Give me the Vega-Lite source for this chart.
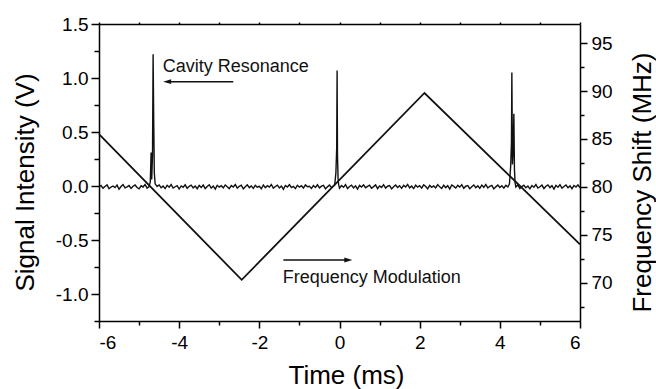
{
  "$schema": "https://vega.github.io/schema/vega-lite/v6.json",
  "width": 481,
  "height": 297,
  "autosize": "none",
  "padding": {"left": 99, "top": 24, "right": 76, "bottom": 68},
  "background": "white",
  "config": {
    "view": {"stroke": null},
    "axis": {
      "grid": false,
      "domainColor": "black",
      "domainWidth": 1.5,
      "tickColor": "black",
      "tickWidth": 1.5,
      "labelColor": "black",
      "labelFont": "Liberation Sans",
      "labelFontSize": 19,
      "titleFont": "Liberation Sans",
      "titleFontSize": 26,
      "titleFontWeight": "normal",
      "titleColor": "black"
    },
    "text": {"font": "Liberation Sans"}
  },
  "datasets": {
    "signal": [
      {"t": -6.00, "v": -0.01}, {"t": -5.95, "v": 0.005}, {"t": -5.90, "v": -0.02}, {"t": -5.85, "v": -0.005}, {"t": -5.80, "v": 0.01},
      {"t": -5.75, "v": -0.025}, {"t": -5.70, "v": -0.01}, {"t": -5.65, "v": 0.0}, {"t": -5.60, "v": -0.015}, {"t": -5.55, "v": 0.008},
      {"t": -5.50, "v": -0.03}, {"t": -5.45, "v": -0.005}, {"t": -5.40, "v": 0.012}, {"t": -5.35, "v": -0.018}, {"t": -5.30, "v": -0.008},
      {"t": -5.25, "v": 0.004}, {"t": -5.20, "v": -0.022}, {"t": -5.15, "v": -0.002}, {"t": -5.10, "v": 0.009}, {"t": -5.05, "v": -0.014},
      {"t": -5.00, "v": -0.026}, {"t": -4.95, "v": 0.002}, {"t": -4.90, "v": -0.009}, {"t": -4.85, "v": 0.014}, {"t": -4.80, "v": -0.02},
      {"t": -4.75, "v": -0.006}, {"t": -4.72, "v": 0.04}, {"t": -4.70, "v": 0.31}, {"t": -4.685, "v": 0.06}, {"t": -4.665, "v": 0.28},
      {"t": -4.65, "v": 1.22}, {"t": -4.635, "v": 0.61}, {"t": -4.62, "v": 0.12}, {"t": -4.60, "v": 0.02},
      {"t": -4.55, "v": -0.004}, {"t": -4.50, "v": 0.01}, {"t": -4.45, "v": -0.016}, {"t": -4.40, "v": -0.001}, {"t": -4.35, "v": -0.024},
      {"t": -4.30, "v": 0.007}, {"t": -4.25, "v": -0.011}, {"t": -4.20, "v": 0.013}, {"t": -4.15, "v": -0.019}, {"t": -4.10, "v": -0.007},
      {"t": -4.05, "v": 0.003}, {"t": -4.00, "v": -0.028}, {"t": -3.95, "v": 0.001}, {"t": -3.90, "v": -0.012}, {"t": -3.85, "v": 0.011},
      {"t": -3.80, "v": -0.021}, {"t": -3.75, "v": -0.003}, {"t": -3.70, "v": 0.008}, {"t": -3.65, "v": -0.017}, {"t": -3.60, "v": 0.0},
      {"t": -3.55, "v": -0.025}, {"t": -3.50, "v": 0.005}, {"t": -3.45, "v": -0.013}, {"t": -3.40, "v": 0.009}, {"t": -3.35, "v": -0.023},
      {"t": -3.30, "v": -0.004}, {"t": -3.25, "v": 0.012}, {"t": -3.20, "v": -0.019}, {"t": -3.15, "v": -0.001}, {"t": -3.10, "v": -0.029},
      {"t": -3.05, "v": 0.006}, {"t": -3.00, "v": -0.011}, {"t": -2.95, "v": 0.002}, {"t": -2.90, "v": -0.017}, {"t": -2.85, "v": 0.01},
      {"t": -2.80, "v": -0.006}, {"t": -2.75, "v": -0.024}, {"t": -2.70, "v": 0.004}, {"t": -2.65, "v": -0.009}, {"t": -2.60, "v": 0.013},
      {"t": -2.55, "v": -0.02}, {"t": -2.50, "v": -0.003}, {"t": -2.45, "v": 0.007}, {"t": -2.40, "v": -0.027}, {"t": -2.35, "v": -0.008},
      {"t": -2.30, "v": 0.011}, {"t": -2.25, "v": -0.015}, {"t": -2.20, "v": 0.001}, {"t": -2.15, "v": -0.022}, {"t": -2.10, "v": 0.006},
      {"t": -2.05, "v": -0.012}, {"t": -2.00, "v": -0.002}, {"t": -1.95, "v": -0.026}, {"t": -1.90, "v": 0.009}, {"t": -1.85, "v": -0.016},
      {"t": -1.80, "v": 0.003}, {"t": -1.75, "v": -0.01}, {"t": -1.70, "v": 0.014}, {"t": -1.65, "v": -0.021}, {"t": -1.60, "v": -0.005},
      {"t": -1.55, "v": 0.008}, {"t": -1.50, "v": -0.018}, {"t": -1.45, "v": 0.0}, {"t": -1.40, "v": -0.03}, {"t": -1.35, "v": 0.005},
      {"t": -1.30, "v": -0.009}, {"t": -1.25, "v": 0.012}, {"t": -1.20, "v": -0.014}, {"t": -1.15, "v": -0.003}, {"t": -1.10, "v": -0.024},
      {"t": -1.05, "v": 0.007}, {"t": -1.00, "v": -0.011}, {"t": -0.95, "v": 0.002}, {"t": -0.90, "v": -0.019}, {"t": -0.85, "v": 0.01},
      {"t": -0.80, "v": -0.007}, {"t": -0.75, "v": -0.002}, {"t": -0.70, "v": -0.022}, {"t": -0.65, "v": 0.004}, {"t": -0.60, "v": -0.013},
      {"t": -0.55, "v": 0.011}, {"t": -0.50, "v": -0.017}, {"t": -0.45, "v": -0.001}, {"t": -0.40, "v": 0.006}, {"t": -0.35, "v": -0.026},
      {"t": -0.30, "v": -0.008}, {"t": -0.25, "v": 0.009}, {"t": -0.20, "v": -0.015}, {"t": -0.15, "v": 0.0},
      {"t": -0.12, "v": 0.01}, {"t": -0.09, "v": 0.12}, {"t": -0.07, "v": 0.35}, {"t": -0.06, "v": 1.07}, {"t": -0.05, "v": 0.28},
      {"t": -0.035, "v": 0.06}, {"t": -0.02, "v": 0.01},
      {"t": 0.00, "v": -0.02}, {"t": 0.05, "v": 0.005}, {"t": 0.10, "v": -0.012}, {"t": 0.15, "v": 0.013}, {"t": 0.20, "v": -0.023},
      {"t": 0.25, "v": -0.004}, {"t": 0.30, "v": 0.008}, {"t": 0.35, "v": -0.018}, {"t": 0.40, "v": 0.002}, {"t": 0.45, "v": -0.028},
      {"t": 0.50, "v": 0.006}, {"t": 0.55, "v": -0.01}, {"t": 0.60, "v": 0.011}, {"t": 0.65, "v": -0.016}, {"t": 0.70, "v": -0.003},
      {"t": 0.75, "v": 0.007}, {"t": 0.80, "v": -0.021}, {"t": 0.85, "v": -0.006}, {"t": 0.90, "v": 0.01}, {"t": 0.95, "v": -0.025},
      {"t": 1.00, "v": 0.001}, {"t": 1.05, "v": -0.013}, {"t": 1.10, "v": 0.012}, {"t": 1.15, "v": -0.019}, {"t": 1.20, "v": -0.002},
      {"t": 1.25, "v": 0.004}, {"t": 1.30, "v": -0.027}, {"t": 1.35, "v": -0.007}, {"t": 1.40, "v": 0.009}, {"t": 1.45, "v": -0.014},
      {"t": 1.50, "v": 0.003}, {"t": 1.55, "v": -0.022}, {"t": 1.60, "v": 0.006}, {"t": 1.65, "v": -0.009}, {"t": 1.70, "v": 0.014},
      {"t": 1.75, "v": -0.017}, {"t": 1.80, "v": -0.001}, {"t": 1.85, "v": -0.024}, {"t": 1.90, "v": 0.008}, {"t": 1.95, "v": -0.011},
      {"t": 2.00, "v": 0.002}, {"t": 2.05, "v": -0.02}, {"t": 2.10, "v": 0.011}, {"t": 2.15, "v": -0.005}, {"t": 2.20, "v": -0.026},
      {"t": 2.25, "v": 0.005}, {"t": 2.30, "v": -0.012}, {"t": 2.35, "v": 0.0}, {"t": 2.40, "v": -0.018}, {"t": 2.45, "v": 0.013},
      {"t": 2.50, "v": -0.008}, {"t": 2.55, "v": -0.023}, {"t": 2.60, "v": 0.007}, {"t": 2.65, "v": -0.015}, {"t": 2.70, "v": 0.003},
      {"t": 2.75, "v": -0.029}, {"t": 2.80, "v": 0.009}, {"t": 2.85, "v": -0.004}, {"t": 2.90, "v": -0.019}, {"t": 2.95, "v": 0.006},
      {"t": 3.00, "v": -0.01}, {"t": 3.05, "v": 0.012}, {"t": 3.10, "v": -0.021}, {"t": 3.15, "v": -0.002}, {"t": 3.20, "v": 0.004},
      {"t": 3.25, "v": -0.025}, {"t": 3.30, "v": -0.006}, {"t": 3.35, "v": 0.01}, {"t": 3.40, "v": -0.016}, {"t": 3.45, "v": 0.001},
      {"t": 3.50, "v": -0.022}, {"t": 3.55, "v": 0.008}, {"t": 3.60, "v": -0.012}, {"t": 3.65, "v": 0.014}, {"t": 3.70, "v": -0.018},
      {"t": 3.75, "v": -0.003}, {"t": 3.80, "v": 0.005}, {"t": 3.85, "v": -0.027}, {"t": 3.90, "v": -0.008}, {"t": 3.95, "v": 0.009},
      {"t": 4.00, "v": -0.014}, {"t": 4.05, "v": 0.002}, {"t": 4.10, "v": -0.02}, {"t": 4.15, "v": 0.006}, {"t": 4.20, "v": -0.009},
      {"t": 4.24, "v": 0.02}, {"t": 4.27, "v": 0.18}, {"t": 4.29, "v": 0.4}, {"t": 4.30, "v": 1.05}, {"t": 4.315, "v": 0.2},
      {"t": 4.335, "v": 0.35}, {"t": 4.35, "v": 0.67}, {"t": 4.365, "v": 0.15}, {"t": 4.38, "v": 0.03},
      {"t": 4.40, "v": -0.01}, {"t": 4.45, "v": 0.011}, {"t": 4.50, "v": -0.024}, {"t": 4.55, "v": -0.005}, {"t": 4.60, "v": 0.007},
      {"t": 4.65, "v": -0.017}, {"t": 4.70, "v": 0.0}, {"t": 4.75, "v": -0.026}, {"t": 4.80, "v": 0.004}, {"t": 4.85, "v": -0.011},
      {"t": 4.90, "v": 0.013}, {"t": 4.95, "v": -0.019}, {"t": 5.00, "v": -0.007}, {"t": 5.05, "v": 0.008}, {"t": 5.10, "v": -0.023},
      {"t": 5.15, "v": -0.002}, {"t": 5.20, "v": 0.01}, {"t": 5.25, "v": -0.015}, {"t": 5.30, "v": 0.003}, {"t": 5.35, "v": -0.028},
      {"t": 5.40, "v": 0.006}, {"t": 5.45, "v": -0.012}, {"t": 5.50, "v": 0.012}, {"t": 5.55, "v": -0.02}, {"t": 5.60, "v": -0.004},
      {"t": 5.65, "v": 0.009}, {"t": 5.70, "v": -0.016}, {"t": 5.75, "v": 0.001}, {"t": 5.80, "v": -0.025}, {"t": 5.85, "v": 0.005},
      {"t": 5.90, "v": -0.01}, {"t": 5.95, "v": 0.011}, {"t": 6.00, "v": -0.018}
    ],
    "freq": [
      {"t": -6.0, "f": 85.5},
      {"t": -2.44, "f": 70.3},
      {"t": 2.12, "f": 89.8},
      {"t": 6.0, "f": 74.0}
    ],
    "labels": [
      {"t": -4.41, "v": 1.053, "text": "Cavity Resonance"},
      {"t": -1.417, "v": -0.895, "text": "Frequency Modulation"}
    ],
    "arrows": [
      {"t1": -2.65, "t2": -4.30, "v": 0.966},
      {"t1": -1.40, "t2": 0.22, "v": -0.685}
    ],
    "heads": [
      {"t": -4.40, "v": 0.966, "dir": "left"},
      {"t": 0.32, "v": -0.685, "dir": "right"}
    ]
  },
  "layer": [
    {
      "data": {"name": "signal"},
      "mark": {"type": "line", "color": "#111111", "strokeWidth": 1.4},
      "encoding": {
        "x": {
          "field": "t", "type": "quantitative",
          "scale": {"domain": [-6, 6], "nice": false, "zero": false},
          "axis": {
            "orient": "bottom",
            "title": "Time (ms)",
            "values": [-6, -5, -4, -3, -2, -1, 0, 1, 2, 3, 4, 5, 6],
            "labelExpr": "datum.value % 2 === 0 ? replace(datum.label, '\u2212', '-') : ''",
            "tickSize": {"condition": {"test": "datum.value % 2 !== 0", "value": 4}, "value": 7},
            "labelPadding": 5,
            "titleX": 247,
            "titleY": 62,
            "titleAlign": "center",
            "titleBaseline": "alphabetic",
            "titleAnchor": null
          }
        },
        "y": {
          "field": "v", "type": "quantitative",
          "scale": {"domain": [-1.25, 1.5], "nice": false, "zero": false},
          "axis": {
            "orient": "left",
            "title": "Signal Intensity (V)",
            "values": [-1.25, -1, -0.75, -0.5, -0.25, 0, 0.25, 0.5, 0.75, 1, 1.25, 1.5],
            "format": ".1f",
            "labelExpr": "abs(datum.value * 2 - round(datum.value * 2)) > 0.01 ? '' : replace(datum.label, '\u2212', '-')",
            "tickSize": {"condition": {"test": "abs(datum.value * 2 - round(datum.value * 2)) > 0.01", "value": 5}, "value": 8},
            "labelPadding": 3,
            "titleAngle": -90,
            "titleX": -66,
            "titleY": 158,
            "titleAlign": "center",
            "titleBaseline": "alphabetic",
            "titleAnchor": null
          }
        }
      }
    },
    {
      "data": {"name": "freq"},
      "mark": {"type": "line", "color": "#111111", "strokeWidth": 1.8},
      "encoding": {
        "x": {
          "field": "t", "type": "quantitative",
          "scale": {"domain": [-6, 6], "nice": false, "zero": false},
          "axis": {
            "orient": "top",
            "title": null,
            "labels": false,
            "values": [-6, -5, -4, -3, -2, -1, 0, 1, 2, 3, 4, 5, 6],
            "tickSize": 2
          }
        },
        "y": {
          "field": "f", "type": "quantitative",
          "scale": {"domain": [66, 97], "nice": false, "zero": false},
          "axis": {
            "orient": "right",
            "title": "Frequency Shift (MHz)",
            "values": [67.5, 70, 72.5, 75, 77.5, 80, 82.5, 85, 87.5, 90, 92.5, 95],
            "labelExpr": "datum.value % 5 === 0 ? datum.label : ''",
            "tickSize": {"condition": {"test": "datum.value % 5 !== 0", "value": 4}, "value": 7},
            "labelPadding": 4,
            "titleAngle": -90,
            "titleX": 70,
            "titleY": 158,
            "titleAlign": "center",
            "titleBaseline": "alphabetic",
            "titleAnchor": null
          }
        }
      }
    },
    {
      "data": {"name": "labels"},
      "mark": {"type": "text", "align": "left", "baseline": "alphabetic", "fontSize": 18, "color": "#111111", "font": "Liberation Sans"},
      "encoding": {
        "x": {"field": "t", "type": "quantitative", "scale": {"domain": [-6, 6], "nice": false, "zero": false}, "axis": null},
        "y": {"field": "v", "type": "quantitative", "scale": {"domain": [-1.25, 1.5], "nice": false, "zero": false}, "axis": null},
        "text": {"field": "text"}
      }
    },
    {
      "data": {"name": "arrows"},
      "mark": {"type": "rule", "color": "#111111", "strokeWidth": 1.5},
      "encoding": {
        "x": {"field": "t1", "type": "quantitative", "scale": {"domain": [-6, 6], "nice": false, "zero": false}, "axis": null},
        "x2": {"field": "t2"},
        "y": {"field": "v", "type": "quantitative", "scale": {"domain": [-1.25, 1.5], "nice": false, "zero": false}, "axis": null}
      }
    },
    {
      "data": {"name": "heads"},
      "mark": {"type": "point", "filled": true, "color": "#111111", "opacity": 1, "size": 64, "strokeWidth": 0},
      "encoding": {
        "x": {"field": "t", "type": "quantitative", "scale": {"domain": [-6, 6], "nice": false, "zero": false}, "axis": null},
        "y": {"field": "v", "type": "quantitative", "scale": {"domain": [-1.25, 1.5], "nice": false, "zero": false}, "axis": null},
        "shape": {
          "field": "dir", "type": "nominal",
          "scale": {"domain": ["left", "right"], "range": ["M0,0L2,-0.6L2,0.6Z", "M0,0L-2,-0.6L-2,0.6Z"]},
          "legend": null
        }
      }
    }
  ],
  "resolve": {
    "scale": {"y": "independent"},
    "axis": {"x": "independent", "y": "independent"}
  }
}
